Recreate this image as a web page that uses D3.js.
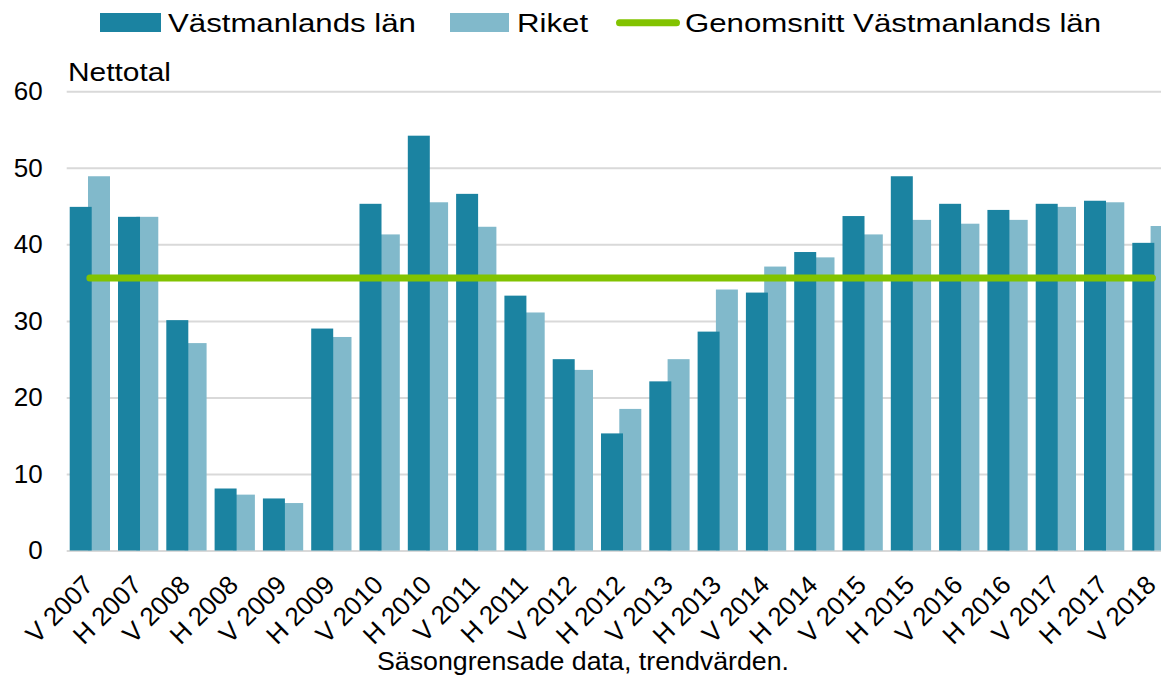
<!DOCTYPE html>
<html>
<head>
<meta charset="utf-8">
<script src="https://cdn.jsdelivr.net/npm/d3@7"></script>
<style>
  body { margin: 0; background: #fff; }
  text { font-family: "Liberation Sans", Arial, sans-serif; fill: #000; }
</style>
</head>
<body>
<script>
const categories = ['V 2007', 'H 2007', 'V 2008', 'H 2008', 'V 2009', 'H 2009', 'V 2010', 'H 2010',
                    'V 2011', 'H 2011', 'V 2012', 'H 2012', 'V 2013', 'H 2013', 'V 2014', 'H 2014',
                    'V 2015', 'H 2015', 'V 2016', 'H 2016', 'V 2017', 'H 2017', 'V 2018'];
const vastmanland = [44.9, 43.6, 30.1, 8.1, 6.8, 29.0, 45.3, 54.2, 46.6, 33.3, 25.0, 15.3,
                     22.1, 28.6, 33.7, 39.0, 43.7, 48.9, 45.3, 44.5, 45.3, 45.7, 40.2];
const riket = [48.9, 43.6, 27.1, 7.3, 6.2, 27.9, 41.3, 45.5, 42.3, 31.1, 23.6, 18.5,
               25.0, 34.1, 37.1, 38.3, 41.3, 43.2, 42.7, 43.2, 44.9, 45.5, 42.4];
const average = 35.6; // Genomsnitt Västmanlands län
const yTicks = [0, 10, 20, 30, 40, 50, 60];
const seriesNames = ['Västmanlands län', 'Riket'];
const averageName = 'Genomsnitt Västmanlands län';
const yTitle = 'Nettotal';
const xTitle = 'Säsongrensade data, trendvärden.';

const svgW = 1161;
const svgH = 676;
const plotLeft = 66.7;
const plotRight = 1176.6; // plot continues past the right edge
const plotTop = 91.3;
const plotBottom = 550.5;

const colors = ['#1b83a1', '#81b9cb'];
const green = '#82c300';
const gridColor = '#d9d9d9';

const svg = d3.select('body')
              .append('svg')
              .attr('width', svgW)
              .attr('height', svgH);

const x = d3.scaleBand()
            .domain(categories)
            .range([65.7, plotRight])
            .paddingInner(0.166)
            .paddingOuter(0.083);
const y = d3.scaleLinear()
            .domain([0, 60])
            .range([plotBottom, plotTop]);

const bw = x.bandwidth();
const barW = bw * 0.546; // bars overlap slightly, dark one in front

// grid + y labels
const yAxis = svg.append('g')
                 .attr('transform', `translate(${plotLeft},0)`)
                 .call(d3.axisLeft(y).tickValues(yTicks).tickSize(-(plotRight - plotLeft)).tickPadding(24));
yAxis.select('.domain').remove();
yAxis.selectAll('line').attr('stroke', gridColor).attr('stroke-width', 2);
yAxis.selectAll('text').attr('font-size', 26);

// Riket behind
svg.append('g')
   .selectAll('rect')
   .data(riket)
   .enter()
   .append('rect')
   .attr('x', (d, i) => x(categories[i]) + bw - barW)
   .attr('y', d => y(d))
   .attr('width', barW)
   .attr('height', d => y(0) - y(d))
   .attr('fill', colors[1]);

// Västmanland in front
svg.append('g')
   .selectAll('rect')
   .data(vastmanland)
   .enter()
   .append('rect')
   .attr('x', (d, i) => x(categories[i]))
   .attr('y', d => y(d))
   .attr('width', barW)
   .attr('height', d => y(0) - y(d))
   .attr('fill', colors[0]);

// average line
svg.append('line')
   .attr('x1', x(categories[0]) + bw / 2)
   .attr('x2', x(categories[categories.length - 1]) + bw / 2)
   .attr('y1', y(average))
   .attr('y2', y(average))
   .attr('stroke', green)
   .attr('stroke-width', 7)
   .attr('stroke-linecap', 'round');

// x labels
const xAxis = svg.append('g')
                 .attr('transform', `translate(0,${plotBottom})`)
                 .call(d3.axisBottom(x).tickSize(0));
xAxis.select('.domain').remove();
xAxis.selectAll('text')
     .attr('font-size', 26)
     .attr('text-anchor', 'end')
     .attr('y', 0)
     .attr('dy', 0)
     .attr('transform', 'translate(5,36) rotate(-45)');

// titles
svg.append('text')
   .attr('transform', 'translate(68,81) scale(1.15,1)')
   .attr('font-size', 26)
   .text(yTitle);
svg.append('text')
   .attr('transform', 'translate(583,669.5) scale(1.03,1)')
   .attr('text-anchor', 'middle')
   .attr('font-size', 26)
   .text(xTitle);

// legend
const legend = svg.append('g');
legend.append('rect').attr('x', 100).attr('y', 13).attr('width', 61).attr('height', 19).attr('fill', colors[0]);
legend.append('text').attr('transform', 'translate(168,31.5) scale(1.2,1)').attr('font-size', 26).text(seriesNames[0]);
legend.append('rect').attr('x', 450).attr('y', 13).attr('width', 59).attr('height', 19).attr('fill', colors[1]);
legend.append('text').attr('transform', 'translate(517,31.5) scale(1.2,1)').attr('font-size', 26).text(seriesNames[1]);
legend.append('line')
      .attr('x1', 619.5).attr('x2', 676.5).attr('y1', 22.7).attr('y2', 22.7)
      .attr('stroke', green).attr('stroke-width', 7).attr('stroke-linecap', 'round');
legend.append('text').attr('transform', 'translate(685,31.5) scale(1.2,1)').attr('font-size', 26).text(averageName);
</script>
</body>
</html>
